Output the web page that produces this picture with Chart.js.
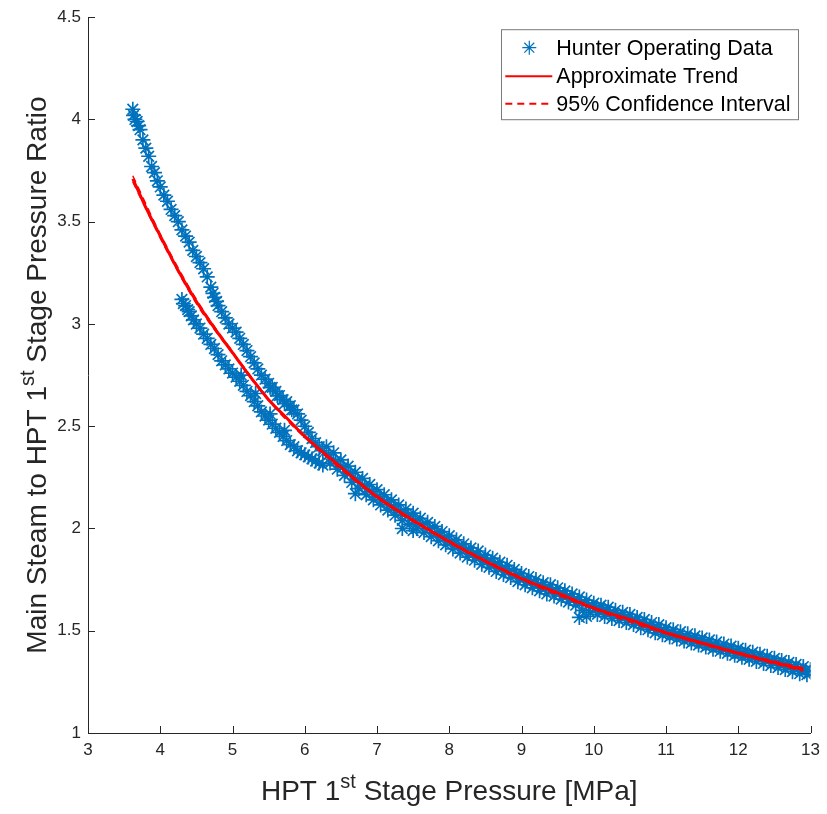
<!DOCTYPE html>
<html>
<head>
<meta charset="utf-8">
<script src="https://cdn.jsdelivr.net/npm/chart.js@4.4.0/dist/chart.umd.min.js"></script>
<style>
  html, body { margin: 0; padding: 0; background: #fff; }
</style>
</head>
<body>
<canvas id="myChart" width="827" height="814"></canvas>
<script>
// tick values
const xTicks = [3, 4, 5, 6, 7, 8, 9, 10, 11, 12, 13];
const yTicks = [1, 1.5, 2, 2.5, 3, 3.5, 4, 4.5];

// operating data [MPa, ratio]
const upperBranch = [
  [3.62,4.05],[3.63,4.02],[3.65,4.00],[3.68,3.99],[3.70,3.97],[3.72,3.95],[3.76,3.90],[3.80,3.86],
  [3.84,3.82],[3.88,3.77],[3.92,3.74],[3.96,3.70],[4.00,3.67],[4.05,3.63],[4.10,3.60],[4.15,3.56],
  [4.20,3.53],[4.25,3.50],[4.30,3.46],[4.35,3.43],[4.40,3.40],[4.45,3.36],[4.50,3.33],[4.55,3.30],
  [4.60,3.27],[4.65,3.23],[4.70,3.18],[4.73,3.15],[4.75,3.13],[4.78,3.11],[4.80,3.09],[4.85,3.06],
  [4.90,3.03],[4.95,3.00],[5.00,2.98],[5.05,2.96],[5.10,2.93],[5.15,2.90],[5.20,2.87],[5.25,2.84],
  [5.30,2.81],[5.35,2.78],[5.40,2.75],[5.45,2.73],[5.50,2.71],[5.55,2.69],[5.60,2.67],[5.65,2.65],
  [5.70,2.63],[5.75,2.62],[5.80,2.60],[5.85,2.58],[5.90,2.56],[5.95,2.53],[6.00,2.50],[6.05,2.47],
  [6.10,2.44],[6.15,2.42],[6.20,2.40],[6.25,2.38],
  [5.52,2.69],[5.62,2.65],[5.72,2.61],[5.82,2.58]
];
const lowerBranch = [
  [4.30,3.12],[4.32,3.10],[4.35,3.09],[4.38,3.07],[4.40,3.06],[4.43,3.04],[4.46,3.02],[4.50,3.00],
  [4.55,2.98],[4.60,2.95],[4.65,2.93],[4.70,2.90],[4.75,2.88],[4.80,2.85],[4.85,2.82],[4.90,2.80],
  [4.95,2.78],[5.00,2.76],[5.05,2.74],[5.10,2.72],[5.15,2.70],[5.20,2.67],[5.25,2.65],[5.30,2.62],
  [5.35,2.60],[5.40,2.57],[5.45,2.55],[5.50,2.53],[5.55,2.51],[5.60,2.49],[5.65,2.47],[5.70,2.45],
  [5.75,2.43],[5.80,2.41],[5.85,2.40],[5.90,2.38],[5.95,2.37],[6.00,2.36],[6.05,2.35],[6.10,2.34],
  [6.15,2.33],[6.20,2.32],[6.25,2.31],
  [5.12,2.75],[5.32,2.66],[5.52,2.56],[5.72,2.48]
];
const bandUpper = [
  [6.3,2.40],[6.4,2.37],[6.5,2.335],[6.6,2.305],[6.7,2.275],[6.8,2.245],[6.9,2.215],[7.0,2.19],
  [7.1,2.165],[7.2,2.14],[7.3,2.115],[7.4,2.095],[7.5,2.075],[7.6,2.05],[7.7,2.03],[7.8,2.01],
  [7.9,1.985],[8.0,1.965],[8.1,1.945],[8.2,1.925],[8.3,1.905],[8.4,1.89],[8.5,1.87],[8.6,1.855],
  [8.7,1.835],[8.8,1.82],[8.9,1.80],[9.0,1.78],[9.1,1.765],[9.2,1.75],[9.3,1.735],[9.4,1.725],
  [9.5,1.71],[9.6,1.695],[9.7,1.68],[9.8,1.665],[9.9,1.65],[10.0,1.635],[10.1,1.625],[10.2,1.615],
  [10.3,1.60],[10.4,1.59],[10.5,1.58],[10.6,1.565],[10.7,1.555],[10.8,1.54],[10.9,1.53],[11.0,1.515],
  [11.1,1.505],[11.2,1.495],[11.3,1.485],[11.4,1.475],[11.5,1.465],[11.6,1.455],[11.7,1.445],[11.8,1.435],
  [11.9,1.425],[12.0,1.415],[12.1,1.405],[12.2,1.395],[12.3,1.385],[12.4,1.375],[12.5,1.365],[12.6,1.355],
  [12.7,1.345],[12.8,1.335],[12.9,1.325],[13.0,1.31]
];
const bandMiddle = [
  [6.33,2.36],[6.43,2.33],[6.53,2.30],[6.63,2.27],[6.73,2.24],[6.83,2.21],[6.93,2.18],[7.03,2.155],
  [7.13,2.13],[7.23,2.105],[7.33,2.08],[7.43,2.06],[7.53,2.04],[7.63,2.02],[7.73,2.00],[7.83,1.98],
  [7.93,1.955],[8.03,1.935],[8.13,1.915],[8.23,1.895],[8.33,1.875],[8.43,1.86],[8.53,1.84],[8.63,1.825],
  [8.73,1.805],[8.83,1.79],[8.93,1.775],[9.03,1.755],[9.13,1.74],[9.23,1.725],[9.33,1.71],[9.43,1.70],
  [9.53,1.685],[9.63,1.67],[9.73,1.655],[9.83,1.64],[9.93,1.625],[10.03,1.61],[10.13,1.60],[10.23,1.59],
  [10.33,1.575],[10.43,1.565],[10.53,1.555],[10.63,1.54],[10.73,1.53],[10.83,1.515],[10.93,1.505],[11.03,1.49],
  [11.13,1.48],[11.23,1.47],[11.33,1.46],[11.43,1.45],[11.53,1.44],[11.63,1.43],[11.73,1.42],[11.83,1.41],
  [11.93,1.40],[12.03,1.39],[12.13,1.38],[12.23,1.375],[12.33,1.365],[12.43,1.355],[12.53,1.345],[12.63,1.335],
  [12.73,1.325],[12.83,1.315],[12.93,1.305]
];
const bandLower = [
  [6.35,2.32],[6.45,2.29],[6.55,2.26],[6.65,2.225],[6.75,2.195],[6.85,2.165],[6.95,2.14],[7.05,2.115],
  [7.15,2.09],[7.25,2.065],[7.35,2.04],[7.45,2.02],[7.55,2.00],[7.65,1.98],[7.75,1.96],[7.85,1.94],
  [7.95,1.92],[8.05,1.90],[8.15,1.88],[8.25,1.86],[8.35,1.845],[8.45,1.825],[8.55,1.81],[8.65,1.79],
  [8.75,1.775],[8.85,1.76],[8.95,1.74],[9.05,1.725],[9.15,1.71],[9.25,1.695],[9.35,1.68],[9.45,1.67],
  [9.55,1.655],[9.65,1.64],[9.75,1.625],[9.85,1.60],[9.95,1.59],[10.05,1.58],[10.15,1.57],[10.25,1.56],
  [10.35,1.55],[10.45,1.54],[10.55,1.53],[10.65,1.515],[10.75,1.505],[10.85,1.49],[10.95,1.48],[11.05,1.47],
  [11.15,1.46],[11.25,1.45],[11.35,1.44],[11.45,1.43],[11.55,1.42],[11.65,1.41],[11.75,1.40],[11.85,1.39],
  [11.95,1.38],[12.05,1.37],[12.15,1.36],[12.25,1.35],[12.35,1.34],[12.45,1.33],[12.55,1.32],[12.65,1.31],
  [12.75,1.30],[12.85,1.29],[12.95,1.285],
  [7.35,2.00],[7.5,1.99],[6.7,2.17],[9.8,1.565],[9.9,1.57]
];

// fitted trend and its confidence bounds
const trend = [
  [3.62,3.71],[3.8,3.57],[4.0,3.43],[4.25,3.26],[4.5,3.11],[4.75,2.98],[5.0,2.86],[5.25,2.74],
  [5.5,2.63],[5.75,2.54],[6.0,2.45],[6.5,2.30],[7.0,2.155],[7.5,2.04],[8.0,1.935],[8.5,1.84],
  [9.0,1.755],[9.5,1.685],[10.0,1.61],[10.5,1.555],[11.0,1.49],[11.5,1.44],[12.0,1.39],[12.5,1.345],[12.9,1.31]
];
const ciUpper = [
  [3.62,3.725],[4.0,3.44],[4.5,3.12],[5.0,2.865],[5.5,2.635],[6.0,2.455],[7.0,2.16],[8.0,1.94],
  [9.0,1.76],[10.0,1.615],[11.0,1.495],[12.0,1.395],[12.9,1.318]
];
const ciLower = [
  [3.62,3.695],[4.0,3.42],[4.5,3.10],[5.0,2.855],[5.5,2.625],[6.0,2.445],[7.0,2.15],[8.0,1.93],
  [9.0,1.75],[10.0,1.605],[11.0,1.485],[12.0,1.385],[12.9,1.302]
];

const legendLabels = ['Hunter Operating Data', 'Approximate Trend', '95% Confidence Interval'];

const blue = '#0072BD';
const red = '#FF0000';
const axisColor = '#262626';
const fontFamily = '"Liberation Sans", Arial, sans-serif';

const pts = arr => arr.map(p => ({ x: p[0], y: p[1] }));
const operating = pts(upperBranch.concat(lowerBranch, bandUpper, bandMiddle, bandLower));

function drawStar(ctx, x, y, r) {
  const d = r * Math.SQRT1_2;
  ctx.beginPath();
  ctx.moveTo(x - r, y); ctx.lineTo(x + r, y);
  ctx.moveTo(x, y - r); ctx.lineTo(x, y + r);
  ctx.moveTo(x - d, y - d); ctx.lineTo(x + d, y + d);
  ctx.moveTo(x - d, y + d); ctx.lineTo(x + d, y - d);
  ctx.stroke();
}

// text with a superscript part, centred on (cx, baseline)
function drawSupText(ctx, parts, cx, baseline, size) {
  const supSize = Math.round(size * 0.7);
  let w = 0;
  parts.forEach(p => {
    ctx.font = (p.sup ? supSize : size) + 'px ' + fontFamily;
    p.w = ctx.measureText(p.t).width;
    w += p.w;
  });
  let x = cx - w / 2;
  ctx.textAlign = 'left';
  ctx.textBaseline = 'alphabetic';
  parts.forEach(p => {
    ctx.font = (p.sup ? supSize : size) + 'px ' + fontFamily;
    ctx.fillText(p.t, x, p.sup ? baseline - size * 0.42 : baseline);
    x += p.w;
  });
}

const extras = {
  id: 'extras',
  afterDraw(chart) {
    const ctx = chart.ctx;
    const area = chart.chartArea;
    const xs = chart.scales.x, ys = chart.scales.y;
    ctx.save();

    // inward ticks
    ctx.strokeStyle = axisColor;
    ctx.lineWidth = 1;
    ctx.beginPath();
    xTicks.forEach(v => {
      const px = Math.round(xs.getPixelForValue(v)) + 0.5;
      ctx.moveTo(px, area.bottom); ctx.lineTo(px, area.bottom - 7);
    });
    yTicks.forEach(v => {
      const py = Math.round(ys.getPixelForValue(v)) + 0.5;
      ctx.moveTo(area.left, py); ctx.lineTo(area.left + 7, py);
    });
    ctx.stroke();

    // axis titles
    ctx.fillStyle = axisColor;
    drawSupText(ctx, [{ t: 'HPT 1' }, { t: 'st', sup: true }, { t: ' Stage Pressure [MPa]' }],
      (area.left + area.right) / 2, 800, 28);
    ctx.save();
    ctx.translate(46, (area.top + area.bottom) / 2);
    ctx.rotate(-Math.PI / 2);
    drawSupText(ctx, [{ t: 'Main Steam to HPT 1' }, { t: 'st', sup: true }, { t: ' Stage Pressure Ratio' }],
      0, 0, 28);
    ctx.restore();

    // legend
    ctx.font = '21.5px ' + fontFamily;
    const tw = Math.max(...legendLabels.map(l => ctx.measureText(l).width));
    const boxW = 55 + tw + 8;
    const boxR = area.right - 12;
    const boxL = boxR - boxW;
    const boxT = area.top + 12.5;
    const boxH = 90;
    ctx.fillStyle = '#fff';
    ctx.fillRect(boxL, boxT, boxW, boxH);
    ctx.strokeStyle = '#7a7a7a';
    ctx.lineWidth = 1;
    ctx.strokeRect(Math.round(boxL) + 0.5, boxT, Math.round(boxW), boxH);

    const rows = [boxT + 18, boxT + 46.5, boxT + 74];
    ctx.fillStyle = '#000';
    ctx.textAlign = 'left';
    ctx.textBaseline = 'middle';
    legendLabels.forEach((l, i) => ctx.fillText(l, boxL + 55, rows[i] + 1));

    ctx.strokeStyle = blue;
    ctx.lineWidth = 1.2;
    drawStar(ctx, boxL + 28, rows[0], 7);

    ctx.strokeStyle = red;
    ctx.lineWidth = 2;
    ctx.beginPath();
    ctx.moveTo(boxL + 4, rows[1]); ctx.lineTo(boxL + 51, rows[1]);
    ctx.stroke();
    ctx.setLineDash([7, 5]);
    ctx.beginPath();
    ctx.moveTo(boxL + 4, rows[2]); ctx.lineTo(boxL + 51, rows[2]);
    ctx.stroke();
    ctx.setLineDash([]);

    ctx.restore();
  }
};

const ctx = document.getElementById('myChart').getContext('2d');
const chart = new Chart(ctx, {
  type: 'scatter',
  data: {
    datasets: [
      {
        label: legendLabels[1],
        type: 'line',
        data: pts(trend),
        borderColor: red,
        borderWidth: 3,
        pointRadius: 0,
        cubicInterpolationMode: 'monotone',
        fill: false,
        order: 0
      },
      {
        label: legendLabels[2],
        type: 'line',
        data: pts(ciUpper),
        borderColor: red,
        borderWidth: 1.5,
        borderDash: [7, 5],
        pointRadius: 0,
        cubicInterpolationMode: 'monotone',
        fill: false,
        order: 1
      },
      {
        label: legendLabels[2],
        type: 'line',
        data: pts(ciLower),
        borderColor: red,
        borderWidth: 1.5,
        borderDash: [7, 5],
        pointRadius: 0,
        cubicInterpolationMode: 'monotone',
        fill: false,
        order: 1
      },
      {
        label: legendLabels[0],
        data: operating,
        pointStyle: 'star',
        pointRadius: 7.5,
        borderWidth: 1.7,
        borderColor: blue,
        backgroundColor: blue,
        order: 3
      }
    ]
  },
  options: {
    responsive: false,
    animation: false,
    layout: { padding: { top: 17, right: 14, left: 0, bottom: 0 } },
    plugins: {
      legend: { display: false },
      tooltip: { enabled: false }
    },
    scales: {
      x: {
        type: 'linear',
        min: 3,
        max: 13,
        afterBuildTicks: s => { s.ticks = xTicks.map(v => ({ value: v })); },
        afterFit: s => { s.height = 81; },
        ticks: {
          color: axisColor,
          font: { family: fontFamily, size: 17 },
          padding: 7,
          maxRotation: 0,
          callback: v => String(v)
        },
        grid: { display: false, drawTicks: false, tickLength: 0 },
        border: { display: true, color: axisColor, width: 1 }
      },
      y: {
        type: 'linear',
        min: 1,
        max: 4.5,
        afterBuildTicks: s => { s.ticks = yTicks.map(v => ({ value: v })); },
        afterFit: s => { s.width = 88; },
        ticks: {
          color: axisColor,
          font: { family: fontFamily, size: 17 },
          padding: 7,
          callback: v => String(v)
        },
        grid: { display: false, drawTicks: false, tickLength: 0 },
        border: { display: true, color: axisColor, width: 1 }
      }
    }
  },
  plugins: [extras]
});
</script>
</body>
</html>
